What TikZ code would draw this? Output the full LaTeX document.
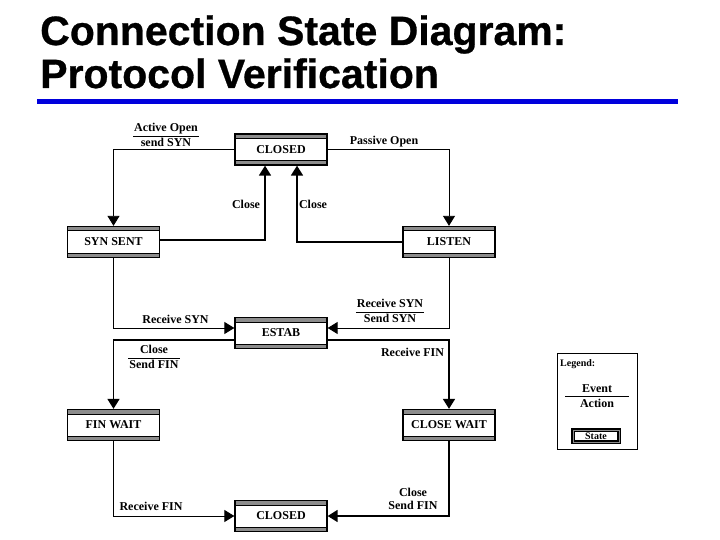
\documentclass[tikz,border=0pt]{standalone}
\usepackage{fontspec}
\setmainfont{Liberation Serif}
\newfontfamily\titlefont[BoldFeatures={FakeBold=0.7}]{Liberation Sans}
\usetikzlibrary{arrows.meta}
\definecolor{titleblue}{RGB}{0,0,220}
\definecolor{bargray}{RGB}{140,140,140}
\begin{document}
\begin{tikzpicture}[x=1pt,y=-1pt,
  bars/.style={path picture={
      \fill[bargray] ([yshift=-0.6pt]path picture bounding box.north west) rectangle ([yshift=-4pt]path picture bounding box.north east);
      \draw[line width=1pt] ([yshift=-4.5pt]path picture bounding box.north west) -- ([yshift=-4.5pt]path picture bounding box.north east);
      \fill[bargray] ([yshift=0.6pt]path picture bounding box.south west) rectangle ([yshift=4pt]path picture bounding box.south east);
      \draw[line width=1pt] ([yshift=4.5pt]path picture bounding box.south west) -- ([yshift=4.5pt]path picture bounding box.south east);
  }},
  state/.style={draw, line width=1.3pt, fill=white, bars, minimum width=92pt, minimum height=31pt,
    inner sep=0pt, font=\fontsize{12}{13}\selectfont\bfseries},
  lbl/.style={font=\fontsize{12}{13}\selectfont\bfseries, inner sep=0pt},
  conn/.style={line width=0.9pt, -{Triangle[width=12pt,length=10pt]}},
  heavy/.style={conn, line width=1.7pt},
  titletext/.style={font=\fontsize{41}{43}\titlefont\bfseries, inner sep=0pt, anchor=base west}
]
\useasboundingbox (0,0) rectangle (720,540);
\fill[white] (0,0) rectangle (720,540);

% title
\node[titletext] (t1) at (40,45) {Connection State Diagram:};
\node[titletext] (t2) at (40,88) {Protocol Verification};
\fill[titleblue] (37,99) rectangle (678,104);

% states
\node[state] (c1) at (281,149.5) {CLOSED};
\node[state] (ss) at (113.5,242) {SYN SENT};
\node[state] (li) at (449,242) {LISTEN};
\node[state] (es) at (281,333) {ESTAB};
\node[state] (fw) at (113.5,425) {FIN WAIT};
\node[state] (cw) at (449,425) {CLOSE WAIT};
\node[state] (c2) at (281,516) {CLOSED};

% connectors
\draw[conn] (c1.west) -| (ss.north);
\draw[conn] (c1.east) -| (li.north);
\draw[heavy] ([yshift=2pt]ss.east) -| ([xshift=-16pt]c1.south);
\draw[heavy] (li.west) -| ([xshift=16pt]c1.south);
\draw[conn] (ss.south) |- ([yshift=5pt]es.west);
\draw[conn] (li.south) |- ([yshift=5pt]es.east);
\draw[heavy] ([yshift=-7pt]es.west) -| (fw.north);
\draw[heavy] ([yshift=-7pt]es.east) -| (cw.north);
\draw[conn] (fw.south) |- (c2.west);
\draw[heavy] (cw.south) |- (c2.east);

% labels
\setlength{\tabcolsep}{1pt}
\renewcommand{\arraystretch}{1.15}
\node[lbl] (l1) at (166,136) {\begin{tabular}{c}Active Open\\\hline send SYN\end{tabular}};
\node[lbl] (l2) at (384,142) {Passive Open};
\node[lbl] (l3) at (246,204) {Close};
\node[lbl] (l4) at (313,204) {Close};
\node[lbl] (l5) at (175.5,319) {Receive SYN};
\node[lbl] (l6) at (390,312) {\begin{tabular}{c}Receive SYN\\\hline Send SYN\end{tabular}};
\node[lbl] (l7) at (154,358) {\begin{tabular}{c}Close\\\hline Send FIN\end{tabular}};
\node[lbl] (l8) at (412.5,352) {Receive FIN};
\node[lbl] (l9) at (151,506) {Receive FIN};
\node[lbl, align=center] (l10) at (413,498.5) {Close\\Send FIN};

% legend
\node[draw, line width=1pt, minimum width=80pt, minimum height=96pt, inner sep=0pt] (leg) at (597,401) {};
\node[lbl, font=\fontsize{10}{11}\selectfont\bfseries, anchor=west] (legt) at (560,364) {Legend:};
\node[lbl] (ev) at (597,389) {Event};
\node[lbl] (ac) at (597,403) {Action};
\draw[line width=0.9pt] (565,396) -- (629,396);
\node[draw, line width=1.1pt, minimum width=46pt, minimum height=12pt, inner sep=0pt,
  font=\fontsize{10}{11}\selectfont\bfseries, double=bargray, double distance=1pt] (st) at (596,436) {State};
\end{tikzpicture}
\end{document}
